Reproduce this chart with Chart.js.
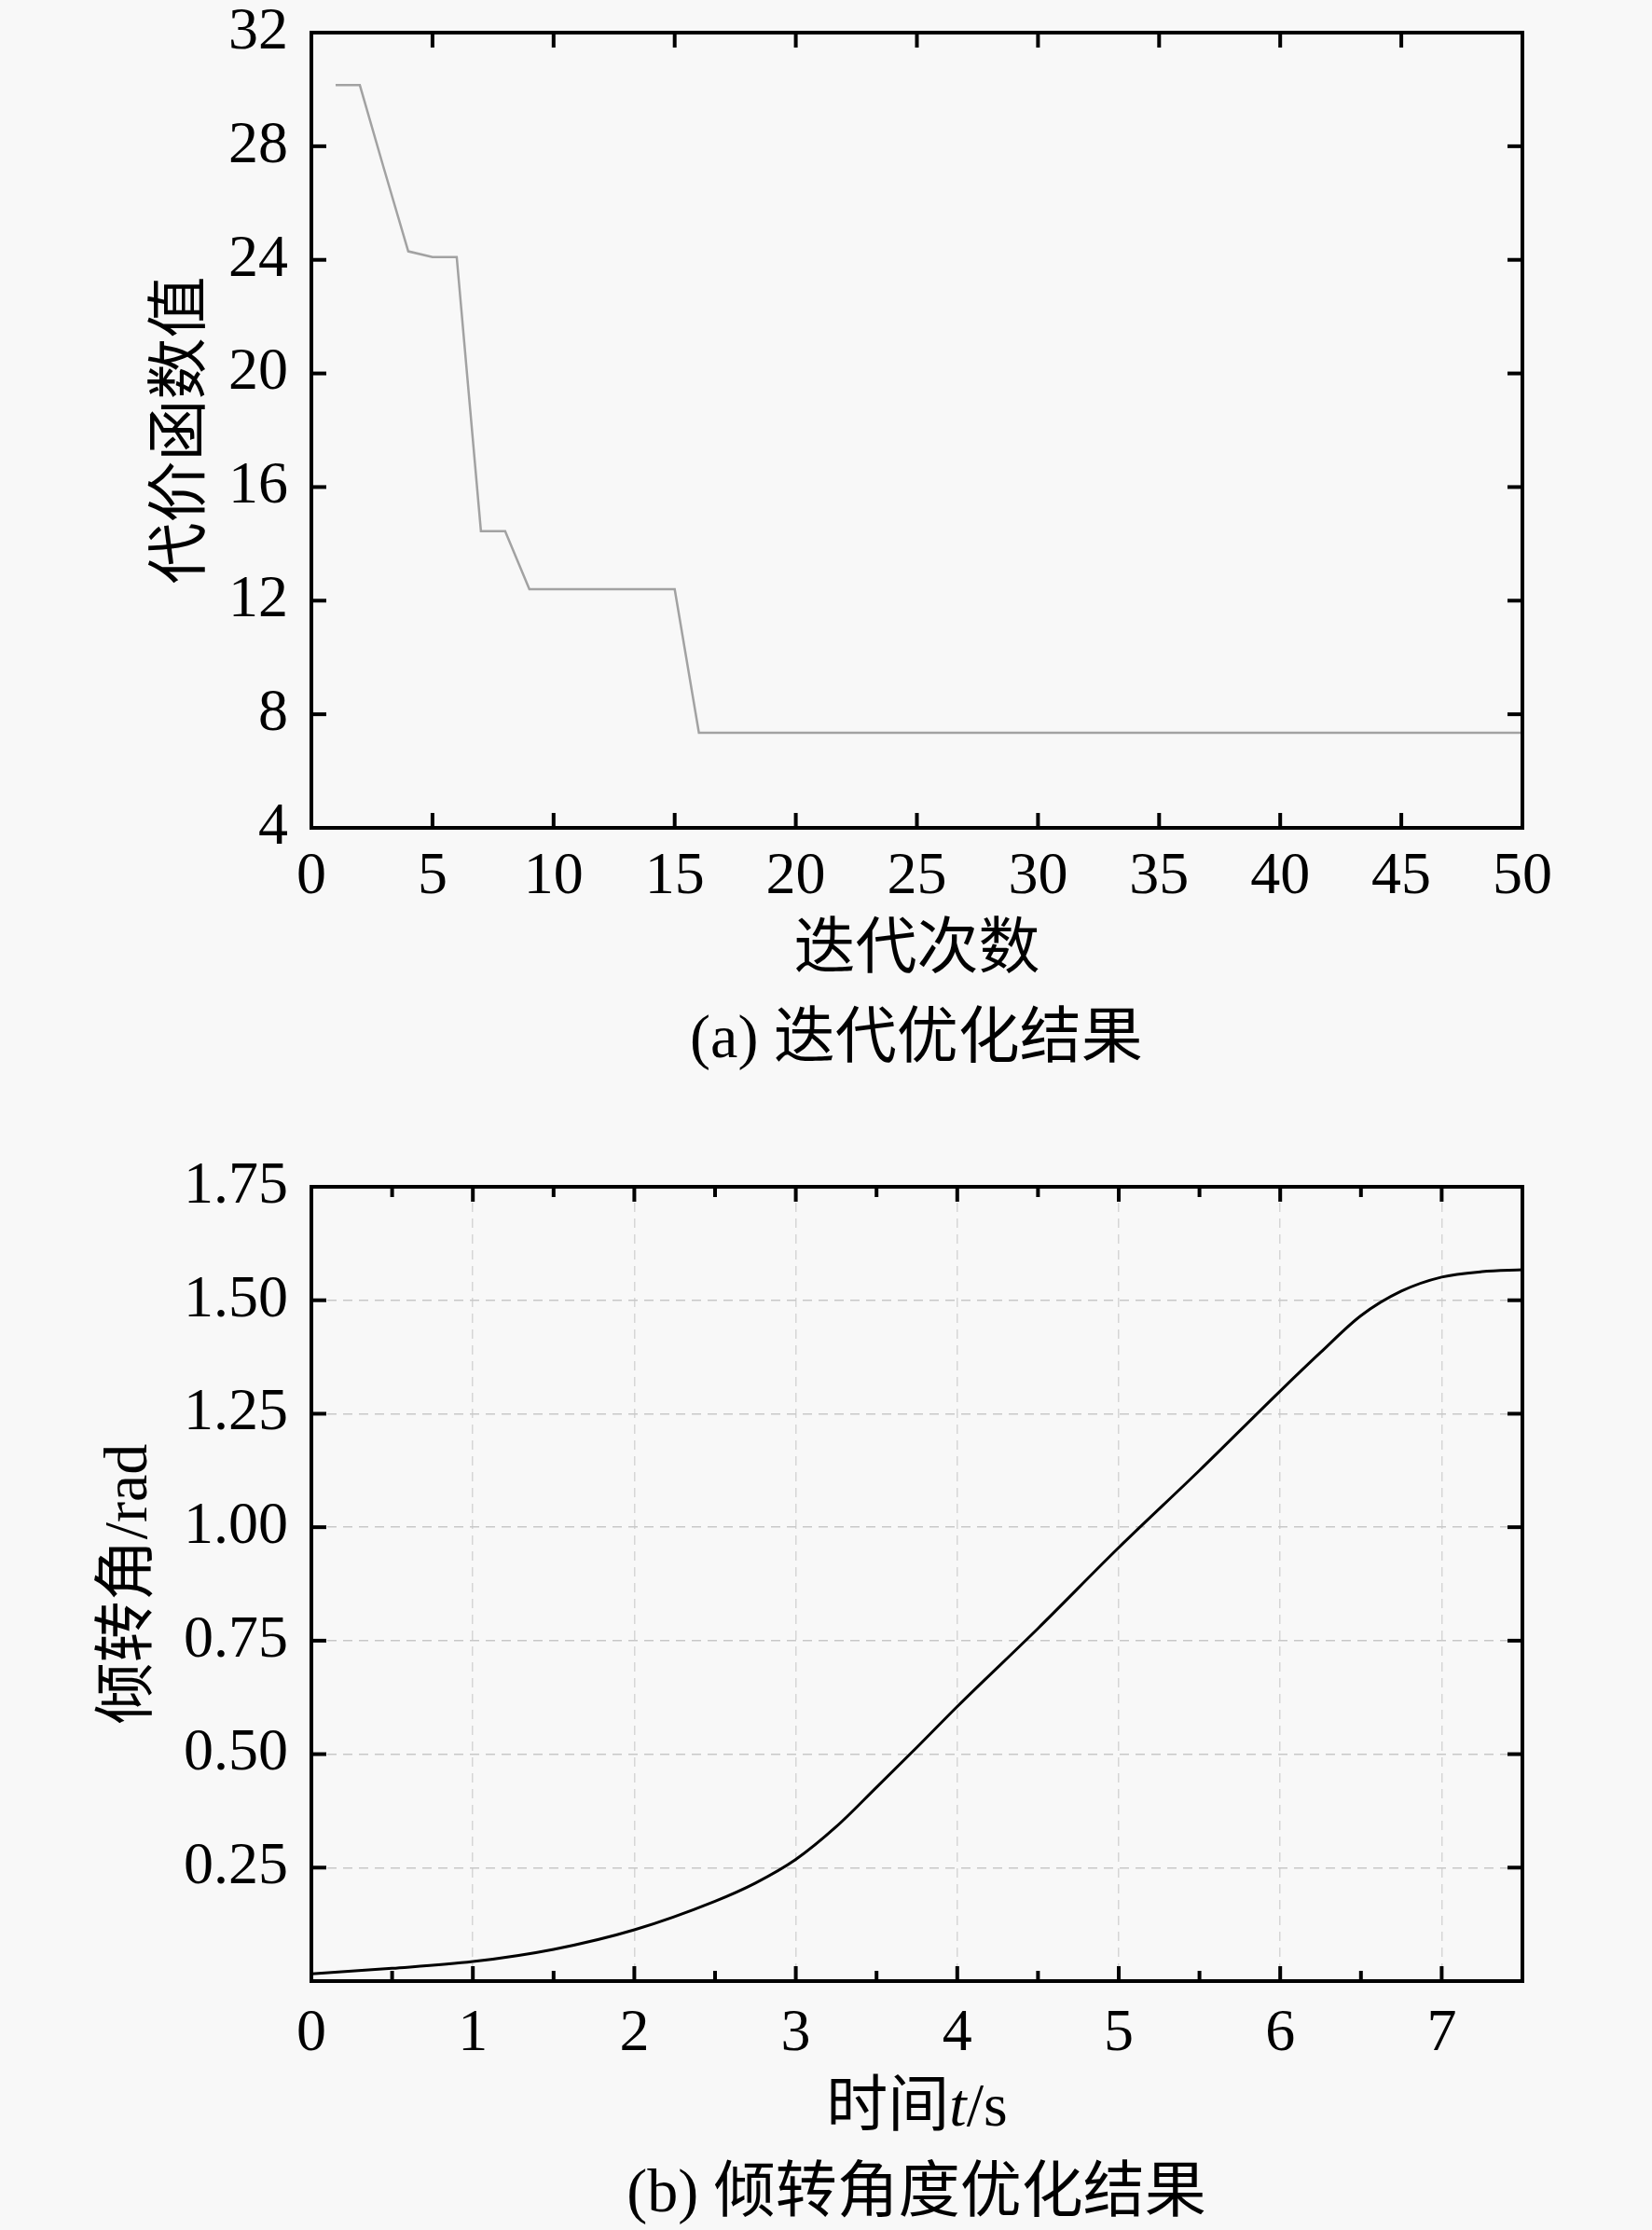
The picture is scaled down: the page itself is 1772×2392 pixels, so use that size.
<!DOCTYPE html>
<html>
<head>
<meta charset="utf-8">
<script src="https://cdn.jsdelivr.net/npm/chart.js@4.4.1/dist/chart.umd.min.js"></script>
<style>
  body { margin: 0; background: #f8f8f8; width: 1772px; height: 2392px; position: relative; overflow: hidden; }
  canvas { position: absolute; left: 0; }
  #chart-iter { top: 0; }
  #chart-tilt { top: 1200px; }
  .cap { position: absolute; left: 483px; width: 1000px; text-align: center; color: #000;
         font: 66px/80px 'Liberation Serif', 'Noto Sans CJK SC'; }
</style>
</head>
<body>
<canvas id="chart-iter" width="1772" height="1060"></canvas>
<div class="cap" style="top:1072px">(a) 迭代优化结果</div>
<canvas id="chart-tilt" width="1772" height="1100"></canvas>
<div class="cap" style="top:2310px">(b) 倾转角度优化结果</div>
<script>
// (a) 代价函数值 vs 迭代次数
var iterations = [1, 2, 3, 4, 5, 6, 7, 8, 9, 10,
                  11, 12, 13, 14, 15, 16, 17, 18, 19, 20,
                  21, 22, 23, 24, 25, 26, 27, 28, 29, 30,
                  31, 32, 33, 34, 35, 36, 37, 38, 39, 40,
                  41, 42, 43, 44, 45, 46, 47, 48, 49, 50];
var costValues = [30.15, 30.15, 27.2, 24.3, 24.1, 24.1, 14.45, 14.45,
                  12.4, 12.4, 12.4, 12.4, 12.4, 12.4, 12.4,
                  7.35, 7.35, 7.35, 7.35, 7.35, 7.35, 7.35,
                  7.35, 7.35, 7.35, 7.35, 7.35, 7.35, 7.35,
                  7.35, 7.35, 7.35, 7.35, 7.35, 7.35, 7.35,
                  7.35, 7.35, 7.35, 7.35, 7.35, 7.35, 7.35,
                  7.35, 7.35, 7.35, 7.35, 7.35, 7.35, 7.35];

// (b) 倾转角 vs 时间
var timeS   = [0, 0.5, 1, 1.5, 2, 2.5, 2.75, 3, 3.25, 3.5, 3.75, 4, 4.5, 5, 5.5, 6, 6.25, 6.5, 6.75, 7, 7.25, 7.5];
var tiltRad = [0.016, 0.028, 0.043, 0.07, 0.113, 0.176, 0.216, 0.268, 0.34, 0.427, 0.515, 0.605, 0.777,
               0.955, 1.125, 1.30, 1.385, 1.466, 1.52, 1.551, 1.563, 1.567];

var serif = "'Liberation Serif', 'Noto Sans CJK SC'";
Chart.defaults.color = '#000';
Chart.defaults.font.family = serif;

// 四周的黑框和朝内的刻度
var frameTicks = {
  id: 'frameTicks',
  afterDraw: function(chart, args, opts) {
    var ctx = chart.ctx, a = chart.chartArea;
    var xs = chart.scales.x, ys = chart.scales.y;
    function seg(x1, y1, x2, y2) { ctx.beginPath(); ctx.moveTo(x1, y1); ctx.lineTo(x2, y2); ctx.stroke(); }
    ctx.save();
    ctx.strokeStyle = '#000';
    ctx.lineWidth = 4;
    xs.ticks.forEach(function(t) {
      var px = xs.getPixelForValue(t.value);
      if (px <= a.left + 2 || px >= a.right - 2) return;
      var len = (opts.minorX && !Number.isInteger(t.value)) ? 11 : 16;
      seg(px, a.top, px, a.top + len);
      seg(px, a.bottom, px, a.bottom - len);
    });
    ys.ticks.forEach(function(t) {
      var py = ys.getPixelForValue(t.value);
      if (py <= a.top + 2 || py >= a.bottom - 2) return;
      seg(a.left, py, a.left + 16, py);
      seg(a.right, py, a.right - 16, py);
    });
    ctx.strokeRect(a.left, a.top, a.right - a.left, a.bottom - a.top);
    ctx.restore();
  }
};

// x 轴标题里的斜体 t
var richXTitle = {
  id: 'richXTitle',
  afterDraw: function(chart, args, opts) {
    if (!opts.parts) return;
    var ctx = chart.ctx, a = chart.chartArea;
    var y = chart.scales.x.bottom - opts.offset;
    ctx.save();
    ctx.fillStyle = '#000';
    ctx.textBaseline = 'alphabetic';
    ctx.textAlign = 'left';
    var widths = opts.parts.map(function(p) { ctx.font = p.font; return ctx.measureText(p.text).width; });
    var total = widths.reduce(function(s, w) { return s + w; }, 0);
    var x = (a.left + a.right) / 2 - total / 2;
    opts.parts.forEach(function(p, i) {
      ctx.font = p.font;
      ctx.fillText(p.text, x, y);
      x += widths[i];
    });
    ctx.restore();
  }
};

function fixY(width) {
  return function(scale) { scale.width = width; scale.paddingTop = 0; scale.paddingBottom = 0; };
}
function fixX(height) {
  return function(scale) { scale.height = height; scale.paddingLeft = 0; scale.paddingRight = 0; };
}

// 图(a)
new Chart(document.getElementById('chart-iter').getContext('2d'), {
  type: 'line',
  data: {
    datasets: [{
      data: iterations.map(function(it, i) { return { x: it, y: costValues[i] }; }),
      borderColor: '#a2a2a2',
      borderWidth: 2.5,
      pointRadius: 0,
      tension: 0
    }]
  },
  options: {
    responsive: false,
    devicePixelRatio: 1,
    animation: false,
    layout: { padding: { top: 35, right: 139, left: 0, bottom: 0 } },
    plugins: { legend: { display: false }, tooltip: { enabled: false } },
    scales: {
      x: {
        type: 'linear', min: 0, max: 50,
        afterFit: fixX(172),
        grid: { display: false, drawTicks: false },
        border: { display: false },
        ticks: { stepSize: 5, padding: 15, maxRotation: 0, autoSkip: false,
                 font: { size: 64, family: serif } },
        title: { display: true, text: '迭代次数', padding: { top: 0, bottom: 0 },
                 font: { size: 66, family: serif, lineHeight: 1.2 } }
      },
      y: {
        min: 4, max: 32,
        afterFit: fixY(334),
        grid: { display: false, drawTicks: false },
        border: { display: false },
        ticks: { stepSize: 4, padding: 25, font: { size: 64, family: serif } },
        title: { display: true, text: '代价函数值', padding: { top: 157, bottom: 0 },
                 font: { size: 66, family: serif, lineHeight: 1.2 } }
      }
    }
  },
  plugins: [frameTicks]
});

// 图(b)
new Chart(document.getElementById('chart-tilt').getContext('2d'), {
  type: 'line',
  data: {
    datasets: [{
      data: timeS.map(function(t, i) { return { x: t, y: tiltRad[i] }; }),
      borderColor: '#000',
      borderWidth: 3,
      pointRadius: 0,
      cubicInterpolationMode: 'monotone'
    }]
  },
  options: {
    responsive: false,
    devicePixelRatio: 1,
    animation: false,
    layout: { padding: { top: 73, right: 139, left: 0, bottom: 0 } },
    plugins: {
      legend: { display: false },
      tooltip: { enabled: false },
      frameTicks: { minorX: true },
      richXTitle: {
        offset: 20,
        parts: [
          { text: '时间', font: "66px " + serif },
          { text: 't', font: "italic 66px 'Liberation Serif'" },
          { text: '/s', font: "66px 'Liberation Serif'" }
        ]
      }
    },
    scales: {
      x: {
        type: 'linear', min: 0, max: 7.5,
        afterFit: fixX(175),
        grid: {
          drawTicks: false,
          lineWidth: 1.5,
          color: function(c) { return Number.isInteger(c.tick.value) ? '#d6d6d6' : 'rgba(0,0,0,0)'; }
        },
        border: { display: false, dash: [10, 7] },
        ticks: {
          stepSize: 0.5, padding: 19, maxRotation: 0, autoSkip: false,
          font: { size: 64, family: serif },
          callback: function(v) { return Number.isInteger(v) ? String(v) : ''; }
        }
      },
      y: {
        min: 0, max: 1.75,
        afterFit: fixY(334),
        grid: { drawTicks: false, lineWidth: 1.5, color: '#c8c8c8' },
        border: { display: false, dash: [10, 7] },
        ticks: {
          stepSize: 0.25, padding: 25,
          font: { size: 64, family: serif },
          callback: function(v) { return v === 0 ? '' : v.toFixed(2); }
        },
        title: { display: true, text: '倾转角/rad', padding: { top: 100, bottom: 0 },
                 font: { size: 66, family: serif, lineHeight: 1.2 } }
      }
    }
  },
  plugins: [frameTicks, richXTitle]
});
</script>
</body>
</html>
